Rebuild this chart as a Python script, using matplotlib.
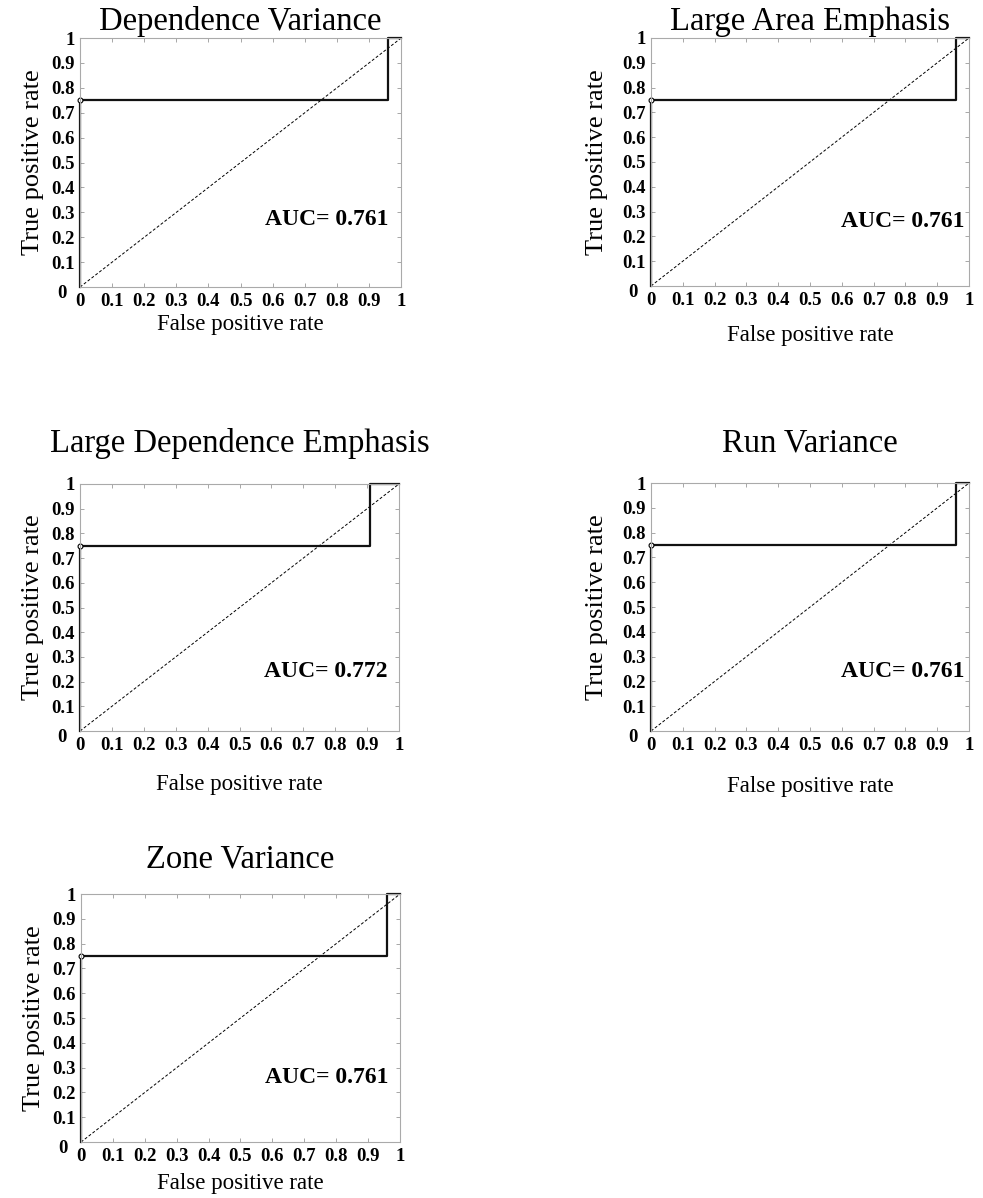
#!/usr/bin/env python3
"""ROC curves for five texture features (grid of small panels)."""

import matplotlib
matplotlib.use('Agg')
import matplotlib.pyplot as plt

plt.rcParams['font.family'] = ['Liberation Serif', 'DejaVu Serif']

# feature names, in panel order
features = [
    'Dependence Variance',
    'Large Area Emphasis',
    'Large Dependence Emphasis',
    'Run Variance',
    'Zone Variance',
]

# ROC points (false positive rate, true positive rate) per feature
roc_fpr = [
    [0, 0, 0.96, 0.96, 1],
    [0, 0, 0.96, 0.96, 1],
    [0, 0, 0.91, 0.91, 1],
    [0, 0, 0.96, 0.96, 1],
    [0, 0, 0.96, 0.96, 1],
]
roc_tpr = [
    [0, 0.75, 0.75, 1, 1],
    [0, 0.75, 0.75, 1, 1],
    [0, 0.75, 0.75, 1, 1],
    [0, 0.75, 0.75, 1, 1],
    [0, 0.75, 0.75, 1, 1],
]
auc_values = [0.761, 0.761, 0.772, 0.761, 0.761]

ticks = [0, 0.1, 0.2, 0.3, 0.4, 0.5, 0.6, 0.7, 0.8, 0.9, 1]
tick_labels = ['0', '0.1', '0.2', '0.3', '0.4', '0.5', '0.6', '0.7', '0.8', '0.9', '1']

# axes rectangles [left, bottom, width, height] in figure fraction
panel_rects = [
    [0.0814, 0.7604, 0.3266, 0.2078],
    [0.6623, 0.7613, 0.3235, 0.2070],
    [0.0814, 0.3898, 0.3245, 0.2062],
    [0.6623, 0.3898, 0.3235, 0.2070],
    [0.0824, 0.0467, 0.3245, 0.2070],
]
title_pads = [6, 6, 23, 23, 19]
xlabel_pads = [3, 12, 15, 16, 6]
ylabel_pads = [5, 10, 5, 10, 5]
auc_pos = [(0.96, 0.27), (0.985, 0.26), (0.965, 0.24), (0.985, 0.24), (0.965, 0.26)]

fig = plt.figure(figsize=(9.83, 11.98), dpi=100)

for i, name in enumerate(features):
    ax = fig.add_axes(panel_rects[i])
    ax.plot([0, 1], [0, 1], color='black', linestyle=(0, (3, 2)), linewidth=0.7)
    ax.plot(roc_fpr[i], roc_tpr[i], color='#111111', linewidth=1.6, clip_on=False)
    ax.plot(roc_fpr[i][1], roc_tpr[i][1], marker='o', markersize=3.5,
            markerfacecolor='white', markeredgecolor='black', markeredgewidth=0.8,
            clip_on=False)

    ax.set_xlim(0, 1)
    ax.set_ylim(0, 1)
    ax.set_xticks(ticks)
    ax.set_xticklabels(tick_labels)
    ax.set_yticks(ticks)
    ax.set_yticklabels([''] + tick_labels[1:])
    ax.tick_params(direction='in', length=3, width=0.6, color='#999999',
                   top=True, right=True, labelsize=13.5, pad=4)
    for lbl in ax.get_xticklabels() + ax.get_yticklabels():
        lbl.set_fontweight('bold')
    for sp in ax.spines.values():
        sp.set_color('#aaaaaa')
        sp.set_linewidth(0.8)
    # MATLAB-style lone "0" at the lower left corner
    ax.annotate('0', xy=(0, 0), xycoords='axes fraction', xytext=(-13, -5),
                textcoords='offset points', ha='center', va='center',
                fontsize=13.5, fontweight='bold')

    ax.set_title(name, fontsize=23.5, pad=title_pads[i])
    ax.set_xlabel('False positive rate', fontsize=16.5, labelpad=xlabel_pads[i])
    ax.set_ylabel('True positive rate', fontsize=19, labelpad=ylabel_pads[i])
    ax.text(auc_pos[i][0], auc_pos[i][1], f'AUC= {auc_values[i]:.3f}',
            transform=ax.transAxes, ha='right', va='center',
            fontsize=17, fontweight='bold')

fig.savefig('out.png', dpi=100)
